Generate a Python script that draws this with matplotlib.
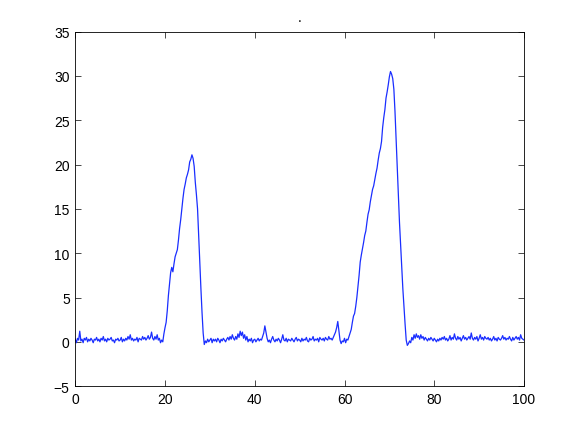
import numpy as np
import matplotlib
matplotlib.use("Agg")
import matplotlib.pyplot as plt

plt.rcParams['font.family'] = ['Liberation Sans', 'DejaVu Sans']

x_start, x_step = 0.0, 0.25
signal = [
    0.3, -0.1, 0.4, 0.2,   # 0
    1.2, 0.1, 0.3, -0.1,   # 1
    0.4, 0.2, 0.5, 0.0,    # 2
    0.3, 0.1, 0.4, 0.2,    # 3
    -0.1, 0.3, 0.2, 0.5,   # 4
    0.1, 0.3, 0.0, 0.4,    # 5
    0.2, 0.6, 0.1, 0.3,    # 6
    0.0, 0.4, 0.2, 0.3,    # 7
    0.5, 0.1, 0.2, -0.1,   # 8
    0.3, 0.2, 0.4, 0.1,    # 9
    0.2, 0.5, 0.0, 0.3,    # 10
    0.1, 0.4, 0.2, 0.6,    # 11
    0.3, 0.8, 0.2, 0.4,    # 12
    0.1, 0.3, 0.2, 0.5,    # 13
    0.0, 0.4, 0.3, 0.2,    # 14
    0.6, 0.3, 0.5, 0.2,    # 15
    0.4, 0.7, 0.3, 0.5,    # 16
    1.1, 0.4, 0.2, 0.6,    # 17
    0.3, 0.8, 0.2, 0.4,    # 18
    -0.1, 0.2, 0.0, 0.9,   # 19
    1.6, 2.2, 3.5, 5.2,    # 20
    6.5, 7.8, 8.4, 7.9,    # 21
    8.8, 9.6, 10.0, 10.4,  # 22
    11.5, 12.8, 13.8, 15.0,  # 23
    16.2, 17.2, 17.8, 18.5,  # 24
    18.9, 19.4, 20.3, 20.6,  # 25
    21.1, 20.7, 19.8, 18.0,  # 26
    16.6, 15.0, 12.0, 9.2,   # 27
    6.0, 3.3, 1.0, -0.3,     # 28
    0.1, -0.1, 0.3, 0.0,   # 29
    0.2, 0.4, -0.1, 0.3,   # 30
    0.1, 0.3, 0.0, 0.4,    # 31
    0.2, -0.1, 0.3, 0.1,   # 32
    0.4, 0.2, 0.0, 0.3,    # 33
    0.5, 0.2, 0.6, 0.3,    # 34
    0.8, 0.4, 0.2, 0.6,    # 35
    0.3, 0.9, 0.5, 1.2,    # 36
    0.7, 1.1, 0.4, 0.8,    # 37
    0.2, 0.6, 0.0, 0.3,    # 38
    0.1, 0.4, -0.1, 0.2,   # 39
    0.3, 0.0, 0.2, 0.4,    # 40
    0.1, 0.3, 0.2, 0.6,    # 41
    1.0, 1.8, 1.1, 0.4,    # 42
    0.0, 0.2, -0.1, 0.3,   # 43
    0.6, 0.2, 0.0, 0.3,    # 44
    0.1, 0.4, 0.2, -0.1,   # 45
    0.3, 0.8, 0.2, 0.1,    # 46
    0.4, 0.0, 0.3, 0.2,    # 47
    0.1, 0.4, 0.2, 0.0,    # 48
    0.3, 0.5, 0.1, 0.3,    # 49
    0.2, 0.0, 0.4, 0.1,    # 50
    0.3, 0.2, 0.5, 0.1,    # 51
    0.0, 0.4, 0.2, 0.3,    # 52
    0.6, 0.1, 0.3, 0.2,    # 53
    0.4, 0.0, 0.5, 0.3,    # 54
    0.2, 0.4, 0.1, 0.5,    # 55
    0.3, 0.2, 0.6, 0.3,    # 56
    0.4, 0.2, 0.5, 0.8,    # 57
    1.1, 1.6, 2.3, 1.2,    # 58
    0.2, -0.2, 0.1, 0.0,   # 59
    0.4, -0.1, 0.3, 0.2,   # 60
    0.6, 1.0, 1.4, 2.2,    # 61
    2.9, 3.2, 4.0, 5.0,    # 62
    6.2, 7.5, 9.0, 9.8,    # 63
    10.5, 11.2, 12.0, 12.5,  # 64
    13.5, 14.4, 14.9, 15.8,  # 65
    16.5, 17.2, 17.6, 18.3,  # 66
    19.0, 19.6, 20.5, 21.3,  # 67
    21.8, 22.6, 24.2, 25.3,  # 68
    26.2, 27.5, 28.2, 29.0,  # 69
    29.9, 30.5, 30.2, 29.7,  # 70
    28.5, 26.0, 22.8, 19.8,  # 71
    16.5, 13.5, 11.0, 8.4,   # 72
    6.0, 4.0, 2.0, 0.2,      # 73
    -0.4, -0.2, 0.1, -0.1,   # 74
    0.5, 0.2, 0.8, 0.4,    # 75
    0.9, 0.5, 0.7, 0.3,    # 76
    0.8, 0.4, 0.6, 0.2,    # 77
    0.5, 0.3, 0.1, 0.4,    # 78
    0.2, 0.5, 0.3, 0.1,    # 79
    0.4, 0.2, 0.0, 0.3,    # 80
    0.1, 0.4, 0.2, 0.5,    # 81
    0.3, 0.6, 0.2, 0.4,    # 82
    0.1, 0.3, 0.7, 0.2,    # 83
    0.5, 0.3, 0.9, 0.4,    # 84
    0.2, 0.6, 0.3, 0.5,    # 85
    0.1, 0.4, 0.7, 0.3,    # 86
    0.5, 0.2, 0.4, 0.6,    # 87
    0.3, 1.0, 0.4, 0.2,    # 88
    0.5, 0.3, 0.6, 0.1,    # 89
    0.4, 0.8, 0.3, 0.5,    # 90
    0.2, 0.6, 0.4, 0.3,    # 91
    0.5, 0.2, 0.4, 0.1,    # 92
    0.3, 0.6, 0.2, 0.4,    # 93
    0.1, 0.5, 0.3, 0.2,    # 94
    0.4, 0.7, 0.3, 0.5,    # 95
    0.2, 0.4, 0.3, 0.6,    # 96
    0.3, 0.1, 0.5, 0.2,    # 97
    0.4, 0.6, 0.3, 0.5,    # 98
    0.2, 0.8, 0.4, 0.3,    # 99
    0.2,                   # 100
]
x_ticks = [0, 20, 40, 60, 80, 100]
y_ticks = [-5, 0, 5, 10, 15, 20, 25, 30, 35]
title_text = "."

x = x_start + x_step * np.arange(len(signal))

fig = plt.figure(figsize=(5.79, 4.35), dpi=100)
ax = fig.add_axes([0.13, 0.11, 0.775, 0.815])
ax.plot(x, signal, color='#1a2eff', linewidth=0.9)
ax.set_xlim(0, 100)
ax.set_ylim(-5, 35)
ax.set_xticks(x_ticks)
ax.set_yticks(y_ticks)
ax.tick_params(direction='in', top=True, right=True, length=4, width=0.5,
               labelsize=10, pad=4)
for s in ax.spines.values():
    s.set_linewidth(0.6)
ax.set_title(title_text, fontsize=10, pad=8)
fig.savefig("out.png", dpi=100, facecolor='white')
